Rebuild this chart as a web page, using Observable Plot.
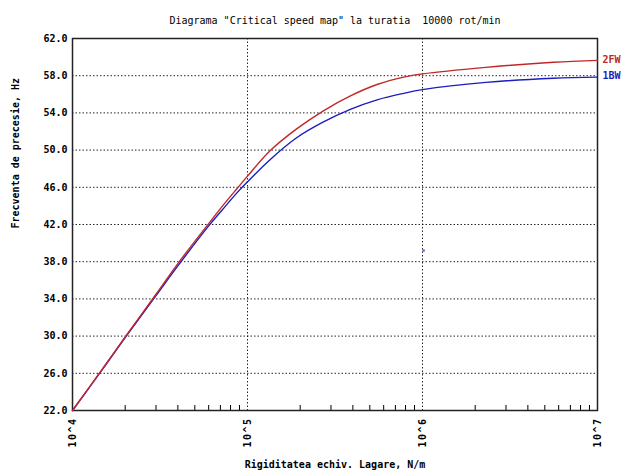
<!DOCTYPE html>
<html>
<head>
<meta charset="utf-8">
<script src="https://cdn.jsdelivr.net/npm/d3@7"></script>
<script src="https://cdn.jsdelivr.net/npm/@observablehq/plot@0.6"></script>
<style>
  html, body { margin: 0; padding: 0; background: #fff; }
</style>
</head>
<body>
<div id="chart"></div>
<script>
// ---- data ----
const stiffness = [1e4, 1.5e4, 2e4, 3e4, 4e4, 6e4, 7.5e4, 8.7e4, 1e5, 1.35e5, 1.9e5, 2.7e5, 3.9e5, 5.5e5, 7.8e5, 1e6, 2.3e6, 5.6e6, 1e7];
const freq2FW = [22.0, 26.6, 29.9, 34.5, 37.8, 42.1, 44.4, 45.85, 47.2, 49.95, 52.25, 54.2, 55.85, 57.05, 57.85, 58.2, 58.9, 59.45, 59.65];
const freq1BW = [22.0, 26.55, 29.85, 34.35, 37.55, 41.85, 44.0, 45.4, 46.6, 49.0, 51.3, 53.0, 54.4, 55.4, 56.1, 56.5, 57.28, 57.73, 57.85];
const strayK = [1.015e6];
const strayF = [39.2];
const seriesNames = ["2FW", "1BW"];
const yTicks = [22, 26, 30, 34, 38, 42, 46, 50, 54, 58, 62];
const yGridValues = [26, 30, 34, 38, 42, 46, 50, 54, 58];
const xDecades = [1e4, 1e5, 1e6, 1e7];
const xGridValues = [1e5, 1e6];
const minorMultipliers = [2, 3, 4, 5, 6, 7, 8, 9];
const titleText = 'Diagrama "Critical speed map" la turatia  10000 rot/min';
const xLabelText = "Rigiditatea echiv. Lagare, N/m";
const yLabelText = "Frecventa de precesie, Hz";

const minorTicks = [];
for (const d of [1e4, 1e5, 1e6]) for (const m of minorMultipliers) minorTicks.push(d * m);

const red = "#c02828";
const blue = "#1c1cc0";

const rowsFW = stiffness.map((k, i) => ({k, f: freq2FW[i]}));
const rowsBW = stiffness.map((k, i) => ({k, f: freq1BW[i]}));
const stray = strayK.map((k, i) => ({k, f: strayF[i]}));
const endLabels = [
  {k: stiffness[stiffness.length - 1], f: freq2FW[freq2FW.length - 1], name: seriesNames[0], color: red},
  {k: stiffness[stiffness.length - 1], f: freq1BW[freq1BW.length - 1], name: seriesNames[1], color: blue}
];

const chart = Plot.plot({
  width: 621,
  height: 475,
  marginTop: 38,
  marginLeft: 72,
  marginRight: 24,
  marginBottom: 65,
  style: {fontFamily: "'DejaVu Sans Mono', monospace", fontSize: "10px", fontWeight: "bold", background: "#fff", color: "#000", overflow: "visible"},
  x: {type: "log", domain: [1e4, 1e7]},
  y: {domain: [22, 62]},
  marks: [
    Plot.gridY(yGridValues, {stroke: "#000", strokeOpacity: 0.85, strokeDasharray: "1.5,2"}),
    Plot.gridX(xGridValues, {stroke: "#000", strokeOpacity: 0.85, strokeDasharray: "1.5,2"}),
    Plot.ruleX(minorTicks, {insetTop: 367, stroke: "#000", strokeWidth: 1}),
    Plot.frame({stroke: "#222", strokeWidth: 1.5}),
    Plot.axisY(yTicks, {tickSize: 0, tickPadding: 5, tickFormat: d => d.toFixed(1), label: null}),
    Plot.axisX(xDecades, {tickSize: 0, tickRotate: -90, tickPadding: 7, tickFormat: d => "10^" + Math.round(Math.log10(d)), label: null}),
    Plot.line(rowsBW, {x: "k", y: "f", stroke: blue, strokeWidth: 1.4, curve: "catmull-rom"}),
    Plot.line(rowsFW, {x: "k", y: "f", stroke: red, strokeWidth: 1.4, curve: "catmull-rom"}),
    Plot.dot(stray, {x: "k", y: "f", r: 1.3, symbol: "square", fill: blue, fillOpacity: 0.7, stroke: null}),
    Plot.text(endLabels, {x: "k", y: "f", text: "name", fill: "color", textAnchor: "start", dx: 5, dy: -1, fontSize: 10, fontWeight: "bold"}),
    Plot.text([titleText], {text: d => d, frameAnchor: "top", dy: -22, fontWeight: "normal", ariaLabel: "title"}),
    Plot.text([xLabelText], {text: d => d, frameAnchor: "bottom", dy: 57, ariaLabel: "xlabel"}),
    Plot.text([yLabelText], {text: d => d, frameAnchor: "left", dx: -57, dy: 4, rotate: -90, ariaLabel: "ylabel"})
  ]
});

document.getElementById("chart").appendChild(chart);
d3.select(chart).selectAll('g[aria-label="ylabel"] text').attr("letter-spacing", "2px");
d3.select(chart).selectAll('g[aria-label="x-axis tick label"] text').attr("letter-spacing", "1.5px");
</script>
</body>
</html>
